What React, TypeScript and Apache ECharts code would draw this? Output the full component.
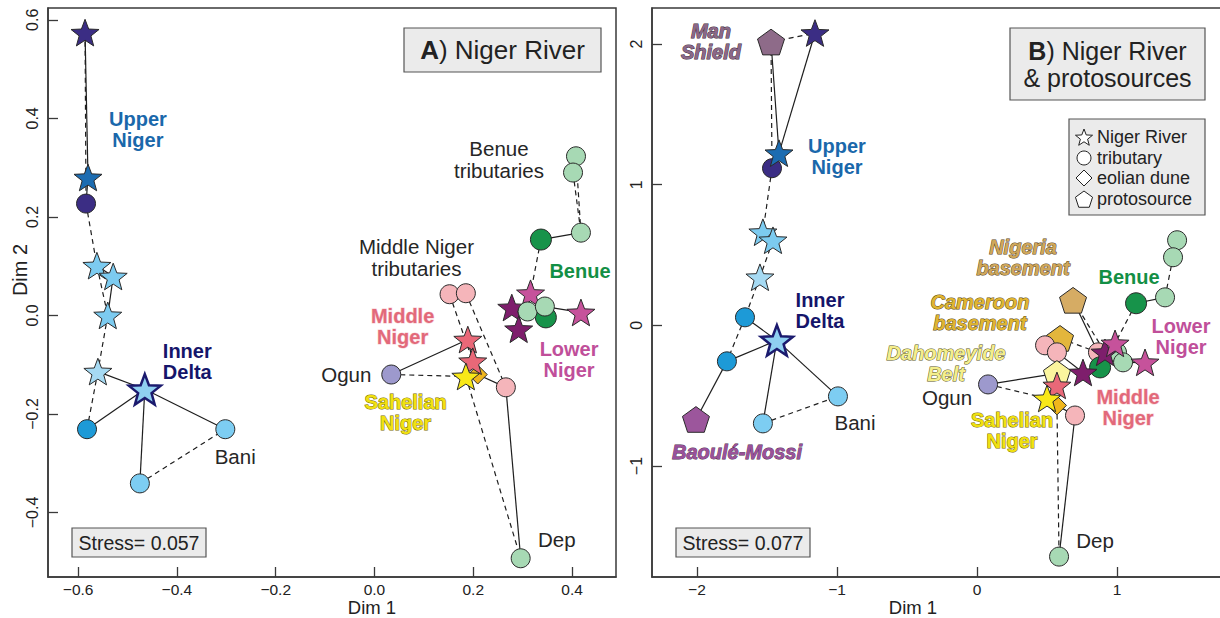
import { useEffect, useRef } from "react";
import * as echarts from "echarts";

const FONT = "'Liberation Sans', Arial, Helvetica, sans-serif";

// ---------------- Panel A : Niger River ----------------
const aNavyStar = [[-0.586, 0.574]];
const aUpperStar = [[-0.58, 0.28]];
const aNavyCirc = [[-0.584, 0.227]];
const aLbStar = [[-0.562, 0.101], [-0.529, 0.079], [-0.54, 0.0]];
const aPbStar = [[-0.56, -0.114]];
const aIdStar = [[-0.465, -0.15]];
const aBlueCirc = [[-0.582, -0.231]];
const aLbCirc = [[-0.302, -0.231], [-0.475, -0.341]];
const aDkPurpleStar = [[0.278, 0.016], [0.292, -0.028]];
const aPinkStar = [[0.316, 0.045], [0.418, 0.006]];
const aDkGreenCirc = [[0.337, 0.154], [0.347, -0.004]];
const aLtGreenCirc = [[0.408, 0.323], [0.402, 0.29], [0.418, 0.168], [0.31, 0.008], [0.345, 0.018], [0.296, -0.493]];
const aPinkCirc = [[0.152, 0.043], [0.185, 0.045], [0.266, -0.146]];
const aOgunCirc = [[0.034, -0.12]];
const aDiamond = [[0.209, -0.12]];
const aRedStar = [[0.189, -0.049], [0.199, -0.093]];
const aYellowStar = [[0.185, -0.124]];

const aSolid = [
  ["navyStar", 0, "upperStar", 0], ["upperStar", 0, "navyCirc", 0], ["lbStar", 0, "lbStar", 1],
  ["lbStar", 1, "lbStar", 2], ["pbStar", 0, "idStar", 0], ["idStar", 0, "blueCirc", 0],
  ["idStar", 0, "lbCirc", 0], ["idStar", 0, "lbCirc", 1], ["ltGreenCirc", 2, "dkGreenCirc", 0],
  ["ltGreenCirc", 0, "ltGreenCirc", 1], ["ltGreenCirc", 4, "pinkStar", 1], ["ogunCirc", 0, "redStar", 0],
  ["diamond", 0, "pinkCirc", 2], ["pinkCirc", 2, "ltGreenCirc", 5], ["redStar", 0, "redStar", 1],
  ["pinkCirc", 0, "pinkCirc", 1], ["dkPurpleStar", 0, "ltGreenCirc", 3],
];
const aDashed = [
  ["navyStar", 0, "navyCirc", 0], ["navyCirc", 0, "lbStar", 0], ["lbStar", 0, "lbStar", 2],
  ["lbStar", 2, "pbStar", 0], ["pbStar", 0, "blueCirc", 0], ["lbCirc", 1, "lbCirc", 0],
  ["ltGreenCirc", 0, "ltGreenCirc", 2], ["ltGreenCirc", 1, "ltGreenCirc", 2], ["dkGreenCirc", 0, "pinkStar", 0],
  ["ogunCirc", 0, "yellowStar", 0], ["pinkCirc", 0, "redStar", 1], ["pinkCirc", 1, "pinkCirc", 2],
  ["yellowStar", 0, "ltGreenCirc", 5],
];

const aLabelText = ["Upper\nNiger", "Inner\nDelta", "Bani", "Benue\ntributaries", "Middle Niger\ntributaries", "Middle\nNiger", "Benue", "Lower\nNiger", "Ogun", "Sahelian\nNiger", "Dep"];
const aLabelPos = [[-0.479, 0.377], [-0.379, -0.093], [-0.282, -0.286], [0.252, 0.316], [0.085, 0.118], [0.057, -0.022], [0.416, 0.091], [0.394, -0.089], [-0.057, -0.12], [0.063, -0.197], [0.369, -0.454]];
const aLabelKind = ["upper", "inner", "plain", "plain", "plain", "middle", "benue", "lower", "plain", "sahel", "plain"];

const aXTicks = [-0.6, -0.4, -0.2, 0.0, 0.2, 0.4];
const aYTicks = [-0.4, -0.2, 0.0, 0.2, 0.4, 0.6];

// ---------------- Panel B : Niger River & protosources ----------------
const bNavyStar = [[-1.157, 2.078]];
const bUpperStar = [[-1.414, 1.224]];
const bNavyCirc = [[-1.464, 1.117]];
const bLbStar = [[-1.529, 0.662], [-1.457, 0.605]];
const bPbStar = [[-1.55, 0.342]];
const bIdStar = [[-1.429, -0.107]];
const bBlueCirc = [[-1.657, 0.057], [-1.786, -0.256]];
const bLbCirc = [[-0.993, -0.505], [-1.529, -0.697]];
const bManPent = [[-1.471, 2.014]];
const bBaoulePent = [[-2.007, -0.669]];
const bNigeriaPent = [[0.686, 0.178]];
const bCameroonPent = [[0.593, -0.093]];
const bDahomeyPent = [[0.571, -0.342]];
const bPinkCirc = [[0.486, -0.142], [0.571, -0.192], [0.864, -0.192], [0.7, -0.641]];
const bDkGreenCirc = [[1.136, 0.157], [0.879, -0.299]];
const bLtGreenCirc = [[1.429, 0.605], [1.4, 0.484], [1.343, 0.199], [1.0, -0.192], [1.043, -0.263], [0.586, -1.644]];
const bDkPurpleStar = [[0.757, -0.335], [0.914, -0.192]];
const bPinkStar = [[0.986, -0.128], [1.2, -0.263]];
const bOgunCirc = [[0.079, -0.42]];
const bDiamond = [[0.571, -0.569]];
const bRedStar = [[0.571, -0.427]];
const bYellowStar = [[0.5, -0.52]];

const bSolid = [
  ["manPent", 0, "upperStar", 0], ["navyStar", 0, "upperStar", 0], ["upperStar", 0, "navyCirc", 0],
  ["lbStar", 0, "lbStar", 1], ["blueCirc", 0, "idStar", 0], ["idStar", 0, "blueCirc", 1],
  ["idStar", 0, "lbCirc", 0], ["idStar", 0, "lbCirc", 1], ["blueCirc", 1, "baoulePent", 0],
  ["ltGreenCirc", 2, "dkGreenCirc", 0], ["ltGreenCirc", 0, "ltGreenCirc", 1], ["nigeriaPent", 0, "pinkCirc", 2],
  ["pinkCirc", 1, "dkPurpleStar", 0], ["pinkStar", 1, "ltGreenCirc", 4], ["ogunCirc", 0, "dahomeyPent", 0],
  ["pinkCirc", 3, "ltGreenCirc", 5], ["diamond", 0, "pinkCirc", 3], ["dkPurpleStar", 0, "dkGreenCirc", 1],
];
const bDashed = [
  ["manPent", 0, "navyStar", 0], ["manPent", 0, "navyCirc", 0], ["navyCirc", 0, "lbStar", 0],
  ["lbStar", 1, "pbStar", 0], ["pbStar", 0, "blueCirc", 0], ["blueCirc", 0, "blueCirc", 1],
  ["lbCirc", 1, "lbCirc", 0], ["ltGreenCirc", 1, "ltGreenCirc", 2], ["dkGreenCirc", 0, "pinkStar", 0],
  ["nigeriaPent", 0, "dkPurpleStar", 1], ["cameroonPent", 0, "pinkCirc", 2], ["ogunCirc", 0, "yellowStar", 0],
  ["diamond", 0, "ltGreenCirc", 5],
];

const bLabelText = ["Man\nShield", "Upper\nNiger", "Inner\nDelta", "Bani", "Baoulé-Mossi", "Nigeria\nbasement", "Benue", "Cameroon\nbasement", "Lower\nNiger", "Dahomeyide\nBelt", "Ogun", "Middle\nNiger", "Sahelian\nNiger", "Dep"];
const bLabelPos = [[-1.9, 2.021], [-1.0, 1.203], [-1.121, 0.107], [-0.871, -0.691], [-1.714, -0.897], [0.329, 0.484], [1.086, 0.342], [0.021, 0.093], [1.457, -0.078], [-0.221, -0.27], [-0.214, -0.512], [1.079, -0.584], [0.25, -0.747], [0.843, -1.53]];
const bLabelKind = ["man", "upper", "inner", "plain", "baoule", "nigeria", "benue", "cameroon", "lower", "dahomey", "plain", "middle", "sahel", "plain"];

const bXTicks = [-2, -1, 0, 1];
const bYTicks = [-1, 0, 1, 2];

// ---------------- styles ----------------
function starPath(): string {
  const pts: string[] = [];
  for (let k = 0; k < 10; k++) {
    const a = ((-90 + 36 * k) * Math.PI) / 180;
    const r = k % 2 === 0 ? 50 : 21;
    pts.push(`${(50 + r * Math.cos(a)).toFixed(2)} ${(50 + r * Math.sin(a)).toFixed(2)}`);
  }
  return "path://M" + pts.join(" L") + " Z";
}
function pentPath(): string {
  const pts: string[] = [];
  for (let k = 0; k < 5; k++) {
    const a = ((-90 + 72 * k) * Math.PI) / 180;
    pts.push(`${(50 + 50 * Math.cos(a)).toFixed(2)} ${(50 + 50 * Math.sin(a)).toFixed(2)}`);
  }
  return "path://M" + pts.join(" L") + " Z";
}
const STAR = starPath();
const PENT = pentPath();

const groupStyle: Record<string, any> = {
  navyStar: { symbol: STAR, size: 28, color: "#3b2d84" },
  upperStar: { symbol: STAR, size: 28, color: "#1c6cb1" },
  navyCirc: { symbol: "circle", size: 19, color: "#3b2d84" },
  lbStar: { symbol: STAR, size: 28, color: "#7ccbf0" },
  pbStar: { symbol: STAR, size: 28, color: "#a6daf3" },
  idStar: { symbol: STAR, size: 32, color: "#8fd0f1", border: "#1b1a6e", bw: 2.5 },
  blueCirc: { symbol: "circle", size: 19, color: "#1d9ad7" },
  lbCirc: { symbol: "circle", size: 19, color: "#7dcdf2" },
  dkPurpleStar: { symbol: STAR, size: 28, color: "#7e1e6c" },
  pinkStar: { symbol: STAR, size: 28, color: "#c6529b" },
  dkGreenCirc: { symbol: "circle", size: 21, color: "#17934a" },
  ltGreenCirc: { symbol: "circle", size: 19, color: "#a7d9b4" },
  pinkCirc: { symbol: "circle", size: 19, color: "#f5b5ba" },
  ogunCirc: { symbol: "circle", size: 19, color: "#9d99cd" },
  diamond: { symbol: "diamond", size: 19, color: "#f0b61c" },
  redStar: { symbol: STAR, size: 28, color: "#e96878" },
  yellowStar: { symbol: STAR, size: 28, color: "#f8e818" },
  manPent: { symbol: PENT, size: 27, color: "#8e6b89" },
  baoulePent: { symbol: PENT, size: 27, color: "#9c569c" },
  nigeriaPent: { symbol: PENT, size: 27, color: "#d6ac64" },
  cameroonPent: { symbol: PENT, size: 27, color: "#e3b63c" },
  dahomeyPent: { symbol: PENT, size: 27, color: "#fbf59e" },
};

const B = { fontWeight: "bold", fontSize: 20, lineHeight: 21 };
const BI = { fontWeight: "bold", fontStyle: "italic", fontSize: 20, lineHeight: 21 };
const labelStyle: Record<string, any> = {
  plain: { color: "#262626", fontWeight: "normal", fontSize: 20.5, lineHeight: 21.5 },
  upper: { ...B, color: "#1a68ab" },
  inner: { ...B, color: "#15156a" },
  middle: { ...B, color: "#e2697a", textBorderColor: "#f9d0d5", textBorderWidth: 1 },
  benue: { ...B, color: "#138f45" },
  lower: { ...B, color: "#c04f9a" },
  sahel: { ...B, color: "#f1e110", textBorderColor: "#7a6b00", textBorderWidth: 1 },
  man: { ...BI, color: "#8b6887", textBorderColor: "#3d2b3b", textBorderWidth: 1 },
  baoule: { ...BI, color: "#9a519a", textBorderColor: "#4a2a4a", textBorderWidth: 0.8 },
  nigeria: { ...BI, color: "#d0a75a", textBorderColor: "#5a4520", textBorderWidth: 1 },
  cameroon: { ...BI, color: "#e0b530", textBorderColor: "#5a4a10", textBorderWidth: 1 },
  dahomey: { ...BI, color: "#f4ee8c", textBorderColor: "#5a5520", textBorderWidth: 1 },
};

const AXIS_COLOR = "#3a3a3a";

function panelSeries(
  idx: number,
  groups: Record<string, number[][]>,
  order: string[],
  solid: any[][],
  dashed: any[][],
  lText: string[],
  lPos: number[][],
  lKind: string[]
) {
  const seg = (s: any[]) => ({ coords: [groups[s[0]][s[1]], groups[s[2]][s[3]]] });
  const series: any[] = [
    {
      type: "lines", coordinateSystem: "cartesian2d", xAxisIndex: idx, yAxisIndex: idx, silent: true, z: 2,
      data: solid.map(seg), lineStyle: { color: "#1e1e1e", width: 1.2, type: "solid", opacity: 1 },
    },
    {
      type: "lines", coordinateSystem: "cartesian2d", xAxisIndex: idx, yAxisIndex: idx, silent: true, z: 2,
      data: dashed.map(seg), lineStyle: { color: "#1e1e1e", width: 1.2, type: [5, 4], opacity: 1 },
    },
  ];
  order.forEach((key) => {
    const st = groupStyle[key];
    series.push({
      type: "scatter", xAxisIndex: idx, yAxisIndex: idx, silent: true, z: 3,
      data: groups[key], symbol: st.symbol, symbolSize: st.size, symbolKeepAspect: true,
      itemStyle: { color: st.color, borderColor: st.border || "#2a2a2a", borderWidth: st.bw || 1, opacity: 1 },
    });
  });
  series.push({
    type: "scatter", xAxisIndex: idx, yAxisIndex: idx, silent: true, z: 5, symbolSize: 1,
    itemStyle: { color: "rgba(0,0,0,0)", opacity: 1 },
    data: lText.map((t, i) => ({
      name: t, value: lPos[i],
      label: { textBorderWidth: 0, textBorderColor: "transparent", opacity: 1, ...labelStyle[lKind[i]] },
    })),
    label: { show: true, position: "inside", formatter: "{b}", fontFamily: FONT, align: "center", verticalAlign: "middle", opacity: 1 },
  });
  return series;
}

function axisX(idx: number, min: number, max: number, ticks: number[], fmt: (v: number) => string) {
  return {
    type: "value", gridIndex: idx, min, max,
    axisLine: { show: true, onZero: false, lineStyle: { color: AXIS_COLOR, width: 1.5 } },
    axisTick: { show: true, inside: true, length: 10, customValues: ticks, lineStyle: { color: AXIS_COLOR, width: 1.3 } },
    axisLabel: { show: true, customValues: ticks, formatter: fmt, fontSize: 15.5, color: "#222", margin: 4, fontFamily: FONT },
    splitLine: { show: false },
  };
}
function axisY(idx: number, min: number, max: number, ticks: number[], fmt: (v: number) => string) {
  return {
    type: "value", gridIndex: idx, min, max,
    axisLine: { show: true, onZero: false, lineStyle: { color: AXIS_COLOR, width: 1.5 } },
    axisTick: { show: true, inside: true, length: 10, customValues: ticks, lineStyle: { color: AXIS_COLOR, width: 1.3 } },
    axisLabel: { show: true, customValues: ticks, formatter: fmt, fontSize: 16, color: "#222", margin: 8, rotate: 90, fontFamily: FONT },
    splitLine: { show: false },
  };
}

const fmtA = (v: number) => v.toFixed(1).replace("-", "\u2212");
const fmtB = (v: number) => String(Math.round(v)).replace("-", "\u2212");

function boxText(x: number, y: number, w: number, h: number, text: string, size: number, lineHeight: number) {
  return [
    { type: "rect", shape: { x, y, width: w, height: h }, style: { fill: "#ebebeb", stroke: "#555", lineWidth: 1.2 }, z: 10 },
    {
      type: "text", x: x + w / 2, y: y + h / 2, z: 11,
      style: {
        text, align: "center", verticalAlign: "middle", fill: "#222", fontSize: size, fontFamily: FONT, lineHeight,
        rich: { b: { fontWeight: "bold", fontSize: size, fontFamily: FONT, fill: "#222", lineHeight } },
      },
    },
  ];
}

function starPts(cx: number, cy: number, r: number) {
  const p: number[][] = [];
  for (let k = 0; k < 10; k++) {
    const a = ((-90 + 36 * k) * Math.PI) / 180;
    const rr = k % 2 === 0 ? r : r * 0.42;
    p.push([cx + rr * Math.cos(a), cy + rr * Math.sin(a)]);
  }
  return p;
}
function pentPts(cx: number, cy: number, r: number) {
  const p: number[][] = [];
  for (let k = 0; k < 5; k++) {
    const a = ((-90 + 72 * k) * Math.PI) / 180;
    p.push([cx + r * Math.cos(a), cy + r * Math.sin(a)]);
  }
  return p;
}

const legendItems = ["Niger River", "tributary", "eolian dune", "protosource"];

function buildOption() {
  const aGroups: Record<string, number[][]> = {
    navyStar: aNavyStar, upperStar: aUpperStar, navyCirc: aNavyCirc, lbStar: aLbStar, pbStar: aPbStar,
    idStar: aIdStar, blueCirc: aBlueCirc, lbCirc: aLbCirc, dkPurpleStar: aDkPurpleStar, pinkStar: aPinkStar,
    dkGreenCirc: aDkGreenCirc, ltGreenCirc: aLtGreenCirc, pinkCirc: aPinkCirc, ogunCirc: aOgunCirc,
    diamond: aDiamond, redStar: aRedStar, yellowStar: aYellowStar,
  };
  const bGroups: Record<string, number[][]> = {
    navyStar: bNavyStar, upperStar: bUpperStar, navyCirc: bNavyCirc, lbStar: bLbStar, pbStar: bPbStar,
    idStar: bIdStar, blueCirc: bBlueCirc, lbCirc: bLbCirc, manPent: bManPent, baoulePent: bBaoulePent,
    nigeriaPent: bNigeriaPent, cameroonPent: bCameroonPent, dahomeyPent: bDahomeyPent, pinkCirc: bPinkCirc,
    dkGreenCirc: bDkGreenCirc, ltGreenCirc: bLtGreenCirc, dkPurpleStar: bDkPurpleStar, pinkStar: bPinkStar,
    ogunCirc: bOgunCirc, diamond: bDiamond, redStar: bRedStar, yellowStar: bYellowStar,
  };
  const aOrder = ["navyStar", "navyCirc", "upperStar", "lbStar", "pbStar", "blueCirc", "lbCirc", "idStar",
    "dkPurpleStar", "pinkStar", "dkGreenCirc", "ltGreenCirc", "pinkCirc", "ogunCirc", "diamond", "redStar", "yellowStar"];
  const bOrder = ["manPent", "navyStar", "navyCirc", "upperStar", "lbStar", "pbStar", "blueCirc", "lbCirc", "idStar", "baoulePent",
    "nigeriaPent", "cameroonPent", "pinkCirc", "dahomeyPent", "dkGreenCirc", "ltGreenCirc", "dkPurpleStar", "pinkStar",
    "ogunCirc", "diamond", "redStar", "yellowStar"];

  const legendX = 1084;
  const rowY = [137, 158, 178, 199];
  const sym = { fill: "#fff", stroke: "#222", lineWidth: 1 };
  const graphic: any[] = [
    ...boxText(404, 28, 197, 44, "{b|A}) Niger River", 26, 28),
    ...boxText(1010, 28, 195, 72, "{b|B}) Niger River\n& protosources", 25, 27),
    ...boxText(72, 528, 134, 29, "Stress= 0.057", 19.5, 20),
    ...boxText(676, 528, 134, 29, "Stress= 0.077", 19.5, 20),
    { type: "rect", shape: { x: 1069, y: 119, width: 136, height: 96 }, style: { fill: "#ebebeb", stroke: "#555", lineWidth: 1.2 }, z: 10 },
    { type: "polygon", shape: { points: starPts(legendX, rowY[0] + 1, 9) }, style: sym, z: 11 },
    { type: "circle", shape: { cx: legendX, cy: rowY[1], r: 7 }, style: sym, z: 11 },
    { type: "polygon", shape: { points: [[legendX, rowY[2] - 8], [legendX + 8, rowY[2]], [legendX, rowY[2] + 8], [legendX - 8, rowY[2]]] }, style: sym, z: 11 },
    { type: "polygon", shape: { points: pentPts(legendX, rowY[3] + 1, 9) }, style: sym, z: 11 },
    ...legendItems.map((t, i) => ({
      type: "text", x: 1097, y: rowY[i], z: 11,
      style: { text: t, align: "left", verticalAlign: "middle", fill: "#222", fontSize: 18, fontFamily: FONT },
    })),
    { type: "text", x: 372, y: 607, style: { text: "Dim 1", align: "center", verticalAlign: "middle", fill: "#222", fontSize: 18.5, fontFamily: FONT } },
    { type: "text", x: 913, y: 607, style: { text: "Dim 1", align: "center", verticalAlign: "middle", fill: "#222", fontSize: 18.5, fontFamily: FONT } },
    { type: "text", x: 20, y: 270, rotation: Math.PI / 2, style: { text: "Dim 2", align: "center", verticalAlign: "middle", fill: "#222", fontSize: 20, fontFamily: FONT } },
  ];

  return {
    animation: false,
    backgroundColor: "#ffffff",
    textStyle: { fontFamily: FONT },
    grid: [
      { left: 48, top: 8, width: 568, height: 569, show: true, borderColor: AXIS_COLOR, borderWidth: 1.5, backgroundColor: "transparent", containLabel: false, outerBoundsMode: "none" },
      { left: 652, top: 8, width: 572, height: 569, show: true, borderColor: AXIS_COLOR, borderWidth: 1.5, backgroundColor: "transparent", containLabel: false, outerBoundsMode: "none" },
    ],
    xAxis: [axisX(0, -0.661, 0.489, aXTicks, fmtA), axisX(1, -2.321, 1.764, bXTicks, fmtB)],
    yAxis: [axisY(0, -0.531, 0.624, aYTicks, fmtA), axisY(1, -1.789, 2.256, bYTicks, fmtB)],
    series: [
      ...panelSeries(0, aGroups, aOrder, aSolid, aDashed, aLabelText, aLabelPos, aLabelKind),
      ...panelSeries(1, bGroups, bOrder, bSolid, bDashed, bLabelText, bLabelPos, bLabelKind),
    ],
    graphic,
  };
}

export default function App() {
  const ref = useRef<HTMLDivElement>(null);
  useEffect(() => {
    const chart = echarts.init(ref.current!, null, { renderer: "svg" });
    chart.setOption(buildOption() as any);
    return () => chart.dispose();
  }, []);
  return <div ref={ref} style={{ position: "fixed", left: 0, top: 0, width: 1220, height: 618, background: "#fff" }} />;
}
